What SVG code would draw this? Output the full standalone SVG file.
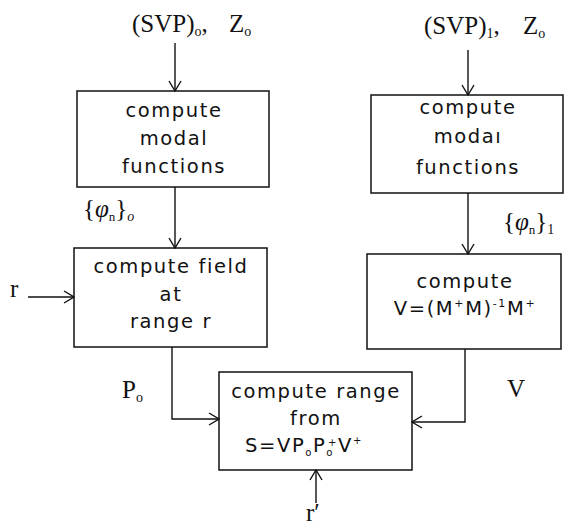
<svg xmlns="http://www.w3.org/2000/svg" width="575" height="529" viewBox="0 0 575 529">
<style>
.box{fill:#fff;stroke:#111;stroke-width:1.5}
.bt{font-family:"DejaVu Sans",sans-serif;font-size:19.5px;letter-spacing:1.6px;fill:#111;text-anchor:middle}
.lbl{font-family:"Liberation Serif",serif;font-size:25px;fill:#111}
.con{fill:none;stroke:#111;stroke-width:1.4}
</style>
<defs>
<marker id="ah" markerWidth="12" markerHeight="14" refX="11" refY="7" orient="auto" markerUnits="userSpaceOnUse">
<path d="M1,1 L11,7 L1,13" fill="none" stroke="#111" stroke-width="1.4"/>
</marker>
</defs>
<rect width="575" height="529" fill="#fff"/>

<text class="lbl" x="132" y="32">(SVP)<tspan font-size="14" dy="4">o</tspan><tspan dy="-4">,</tspan><tspan x="229">Z</tspan><tspan font-size="14" dy="4">o</tspan></text>
<text class="lbl" x="424" y="34">(SVP)<tspan font-size="14" dy="4">1</tspan><tspan dy="-4">,</tspan><tspan x="523">Z</tspan><tspan font-size="14" dy="4">o</tspan></text>
<text class="lbl" x="10" y="297">r</text>
<text class="lbl" x="122" y="398">P<tspan font-size="14" dy="4">o</tspan></text>
<text class="lbl" x="507" y="397">V</text>
<text class="lbl" x="306" y="521" font-size="23">r′</text>
<text class="lbl" x="83" y="217" font-size="22">{<tspan font-style="italic">φ</tspan><tspan font-size="13" dy="4">n</tspan><tspan dy="-4">}</tspan><tspan font-size="14" font-style="italic" dy="4">o</tspan></text>
<text class="lbl" x="503" y="230" font-size="22">{<tspan font-style="italic">φ</tspan><tspan font-size="13" dy="4">n</tspan><tspan dy="-4">}</tspan><tspan font-size="14" dy="4">1</tspan></text>

<g id="node-modal0">
<rect class="box" x="77" y="91" width="192" height="96"/>
<text class="bt" x="174" y="117">compute</text>
<text class="bt" x="174" y="145">modal</text>
<text class="bt" x="174" y="173">functions</text>
</g>
<g id="node-modal1">
<rect class="box" x="371" y="95" width="192" height="98"/>
<text class="bt" x="468" y="114">compute</text>
<text class="bt" x="468" y="143">modaı</text>
<text class="bt" x="468" y="174">functions</text>
</g>
<g id="node-field">
<rect class="box" x="74" y="248" width="193" height="99"/>
<text class="bt" x="171" y="273">compute field</text>
<text class="bt" x="171" y="301">at</text>
<text class="bt" x="171" y="328">range r</text>
</g>
<g id="node-V">
<rect class="box" x="367" y="254" width="194" height="95"/>
<text class="bt" x="465" y="288">compute</text>
<text class="bt" x="465" y="315" font-size="19" letter-spacing="0.8">V=(M<tspan font-size="11" dy="-8">+</tspan><tspan dy="8">M)</tspan><tspan font-size="11" dy="-8">-1</tspan><tspan dy="8">M</tspan><tspan font-size="11" dy="-8">+</tspan></text>
</g>
<g id="node-range">
<rect class="box" x="219" y="372" width="193" height="98"/>
<text class="bt" x="316" y="398">compute range</text>
<text class="bt" x="316" y="425">from</text>
<text class="bt" x="304" y="452" font-size="18" letter-spacing="0.5">S=VP<tspan font-size="10" dy="4">o</tspan><tspan dy="-4">P</tspan><tspan font-size="10" dy="4">o</tspan><tspan font-size="10" dx="-6" dy="-10">+</tspan><tspan dy="6">V</tspan><tspan font-size="10" dy="-8">+</tspan></text>
</g>

<g id="connectors">
<line class="con" x1="175" y1="43" x2="175" y2="91" marker-end="url(#ah)"/>
<line class="con" x1="468" y1="50" x2="468" y2="95" marker-end="url(#ah)"/>
<line class="con" x1="175" y1="187" x2="175" y2="248" marker-end="url(#ah)"/>
<line class="con" x1="468" y1="193" x2="468" y2="254" marker-end="url(#ah)"/>
<line class="con" x1="28" y1="297" x2="74" y2="297" marker-end="url(#ah)"/>
<path class="con" d="M172,347 V419 H219" marker-end="url(#ah)"/>
<path class="con" d="M465,349 V422 H412" marker-end="url(#ah)"/>
<line class="con" x1="316" y1="503" x2="316" y2="470" marker-end="url(#ah)"/>
</g>
</svg>
